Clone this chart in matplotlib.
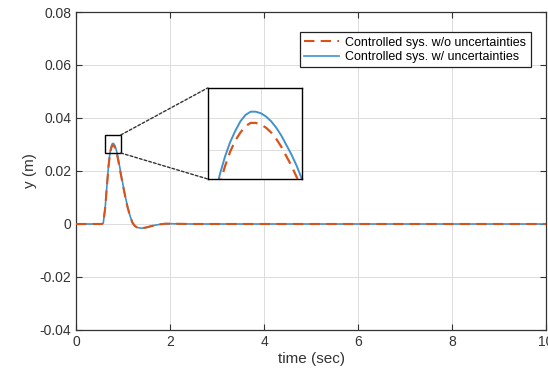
import numpy as np
import matplotlib
matplotlib.use('Agg')
import matplotlib.pyplot as plt
from matplotlib.patches import Rectangle, ConnectionPatch
from matplotlib.ticker import FuncFormatter

# (time in sec, y in m)
t_peak = [0.0, 0.55, 0.58, 0.62, 0.66,
          0.69, 0.70, 0.71, 0.72, 0.73, 0.74, 0.75, 0.76, 0.77, 0.78, 0.79,
          0.80, 0.81, 0.82, 0.83, 0.84, 0.85, 0.86, 0.87, 0.88, 0.89, 0.90,
          0.95, 1.00, 1.05, 1.10, 1.15, 1.20, 1.25, 1.30, 1.40,
          1.50, 1.60, 1.70, 1.80, 1.90, 2.00, 2.5, 3, 4, 5, 6, 7, 8, 9, 10]
y_unc = [0, 0, 0.0003, 0.006, 0.015,
         0.0218, 0.0235, 0.0251, 0.0265, 0.0276, 0.0285, 0.0292, 0.0298, 0.0302, 0.0304, 0.0304,
         0.0303, 0.0301, 0.0298, 0.0294, 0.0289, 0.0283, 0.0277, 0.0270, 0.0262, 0.0254, 0.0245,
         0.0195, 0.0148, 0.0103, 0.0063, 0.0030, 0.0006, -0.0007, -0.0013, -0.0016,
         -0.0013, -0.0008, -0.0004, -0.0001, 0.0001, 0.0001, 0, 0, 0, 0, 0, 0, 0, 0, 0]
y_nom = [0, 0, 0.0003, 0.006, 0.0147,
         0.0213, 0.0230, 0.0245, 0.0259, 0.0270, 0.0279, 0.0286, 0.0291, 0.0295, 0.0297, 0.0297,
         0.0296, 0.0294, 0.0291, 0.0287, 0.0282, 0.0276, 0.0270, 0.0263, 0.0255, 0.0247, 0.0238,
         0.0190, 0.0144, 0.0100, 0.0061, 0.0029, 0.0005, -0.0007, -0.0013, -0.0016,
         -0.0013, -0.0008, -0.0004, -0.0001, 0.0001, 0.0001, 0, 0, 0, 0, 0, 0, 0, 0, 0]

labels = ['Controlled sys. w/o uncertainties', 'Controlled sys. w/ uncertainties']
zoom_box = (0.617, 0.0268, 0.336, 0.0068)   # x, y, w, h of the marked region
inset_xlim = (0.696, 0.880)
inset_ylim = (0.0262, 0.03188)

plt.rcParams['font.family'] = ['Liberation Sans', 'DejaVu Sans']
c_orange = '#D95319'
c_blue = '#4192CC'
c_txt = '#333333'

fig = plt.figure(figsize=(5.48, 3.81), dpi=100)
ax = fig.add_axes([0.1387, 0.1339, 0.8577, 0.8346])

ax.plot(t_peak, y_nom, '--', color=c_orange, lw=1.5, dashes=(5, 3), label=labels[0], zorder=3)
ax.plot(t_peak, y_unc, '-', color=c_blue, lw=1.2, label=labels[1], zorder=2)

ax.set_xlim(0, 10)
ax.set_ylim(-0.04, 0.08)
ax.set_xticks([0, 2, 4, 6, 8, 10])
ax.set_yticks([-0.04, -0.02, 0, 0.02, 0.04, 0.06, 0.08])
ax.yaxis.set_major_formatter(FuncFormatter(lambda v, p: f'{v:g}'))
ax.xaxis.set_major_formatter(FuncFormatter(lambda v, p: f'{v:g}'))
ax.grid(True, color='#dcdcdc', lw=0.7)
ax.tick_params(direction='in', top=True, right=True, labelsize=10, colors=c_txt, length=4)
for s in ax.spines.values():
    s.set_color('#333333')
    s.set_linewidth(0.9)
ax.set_xlabel('time (sec)', fontsize=11, color=c_txt, labelpad=2)
ax.set_ylabel('y (m)', fontsize=11, color=c_txt, labelpad=2)

leg = ax.legend(loc='upper right', bbox_to_anchor=(0.981, 0.956), fontsize=9,
                fancybox=False, framealpha=1, edgecolor='#222222',
                handlelength=2.8, borderpad=0.35, labelspacing=0.2, handletextpad=0.5)
leg.get_frame().set_linewidth(0.9)

# zoom rectangle
ax.add_patch(Rectangle((zoom_box[0], zoom_box[1]), zoom_box[2], zoom_box[3],
                       fill=False, ec='black', lw=1.0, zorder=5))

# inset
axi = ax.inset_axes([0.280, 0.475, 0.2006, 0.286])
axi.plot(t_peak, y_nom, '--', color=c_orange, lw=1.6, dashes=(5, 3), zorder=3)
axi.plot(t_peak, y_unc, '-', color=c_blue, lw=1.4, zorder=2)
axi.set_xlim(*inset_xlim)
axi.set_ylim(*inset_ylim)
axi.set_xticks([0.8])
axi.set_yticks([0.028, 0.030])
axi.grid(True, color='#dcdcdc', lw=0.7)
axi.tick_params(length=0, labelleft=False, labelbottom=False)
for s in axi.spines.values():
    s.set_color('black')
    s.set_linewidth(1.0)

x_right = zoom_box[0] + zoom_box[2]
for yb, yi in [(zoom_box[1] + zoom_box[3], 1), (zoom_box[1], 0)]:
    con = ConnectionPatch(xyA=(x_right, yb), coordsA=ax.transData,
                          xyB=(0, yi), coordsB=axi.transAxes,
                          ls=(0, (2, 1.5)), color='#333333', lw=1.0)
    fig.add_artist(con)

fig.savefig('out.png', dpi=100)
